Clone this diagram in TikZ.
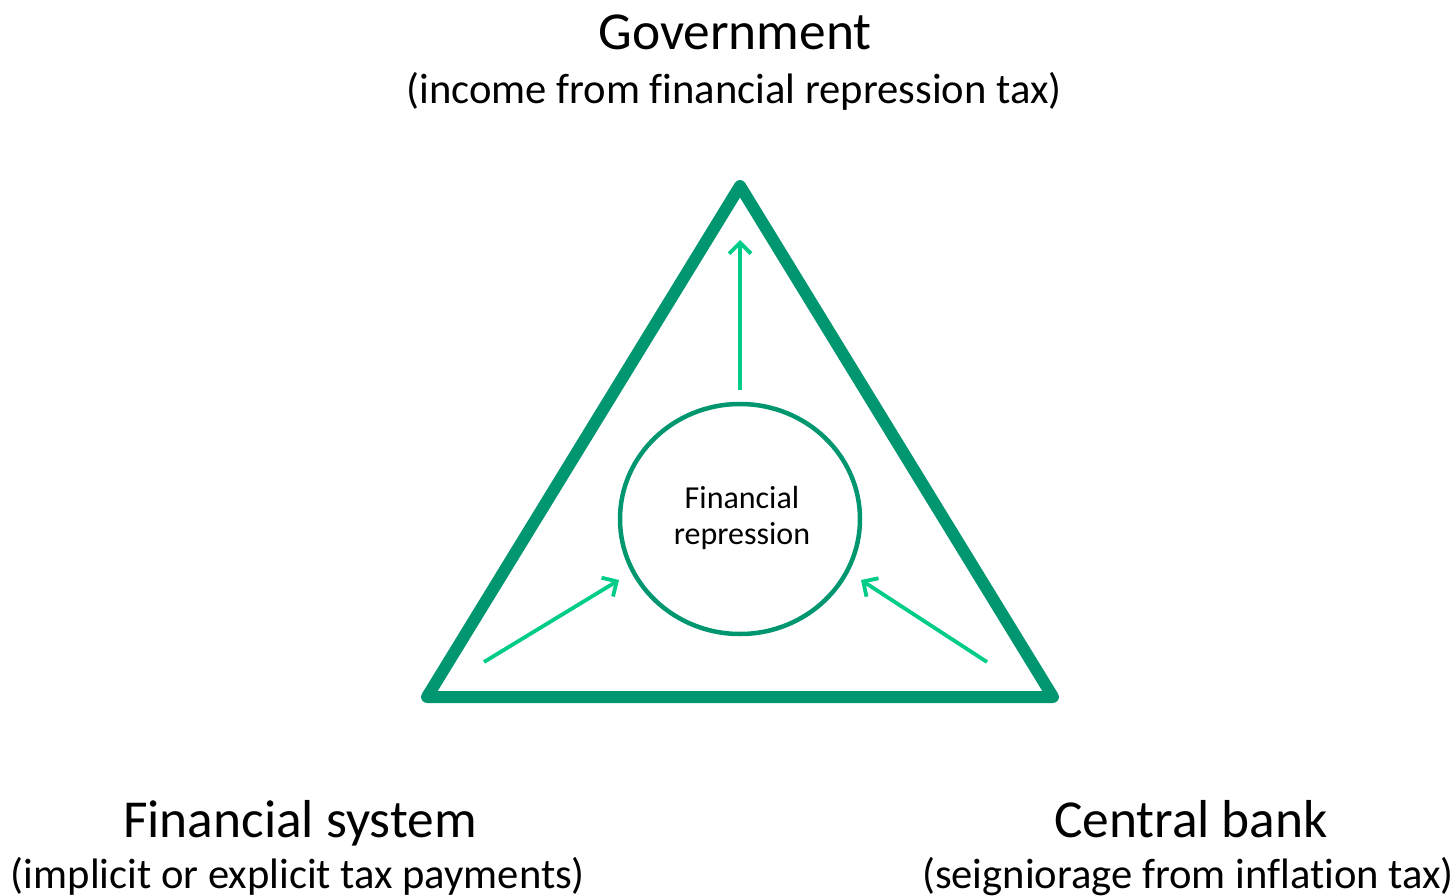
\documentclass[tikz,border=0pt]{standalone}
\usepackage{fontspec}
\setmainfont{Carlito}[Ligatures=NoCommon]
\usetikzlibrary{arrows.meta}
\definecolor{frame}{HTML}{009670}
\definecolor{flow}{HTML}{00CC8A}
\begin{document}
\begin{tikzpicture}[x=1pt,y=-1pt,
  title/.style={inner sep=0pt,anchor=base,font=\fontsize{53.4}{64}\selectfont},
  sub/.style={inner sep=0pt,anchor=base,font=\fontsize{42.6}{51}\selectfont},
  inner/.style={inner sep=0pt,anchor=base,font=\fontsize{32}{36}\selectfont},
  flowarrow/.style={draw=flow,line width=3.8pt,-{Straight Barb[length=11pt,width=22pt,line width=3.8pt]}}]
\useasboundingbox (0,0) rectangle (1456,896);
% outer triangle
\draw[frame,line width=12pt,line join=round,line cap=round]
  (740,186) -- (1053,697) -- (427,697) -- cycle;
% central circle
\draw[frame,line width=4.5pt] (740,519) ellipse [x radius=120,y radius=115];
\node[inner] (hub1) at (742,508) {Financial};
\node[inner] (hub2) at (742,544) {repression};
\coordinate (hubtop) at (740,390);
\coordinate (apex) at (740,240);
\coordinate (lsrc) at (484,662);
\coordinate (ltgt) at (619,580);
\coordinate (rsrc) at (987,662);
\coordinate (rtgt) at (861,580);
\draw[flowarrow] (hubtop) -- (apex);
\draw[flowarrow] (lsrc) -- (ltgt);
\draw[flowarrow] (rsrc) -- (rtgt);
% labels
\node[title] (gov) at (735,50) {Government};
\node[sub] (govsub) at (734,104) {(income from financial repression tax)};
\node[title] (fin) at (300,837) {Financial system};
\node[sub] (finsub) at (298,888) {(implicit or explicit tax payments)};
\node[title] (cb) at (1191,837) {Central bank};
\node[sub] (cbsub) at (1188,888) {(seigniorage from inflation tax)};
\end{tikzpicture}
\end{document}
